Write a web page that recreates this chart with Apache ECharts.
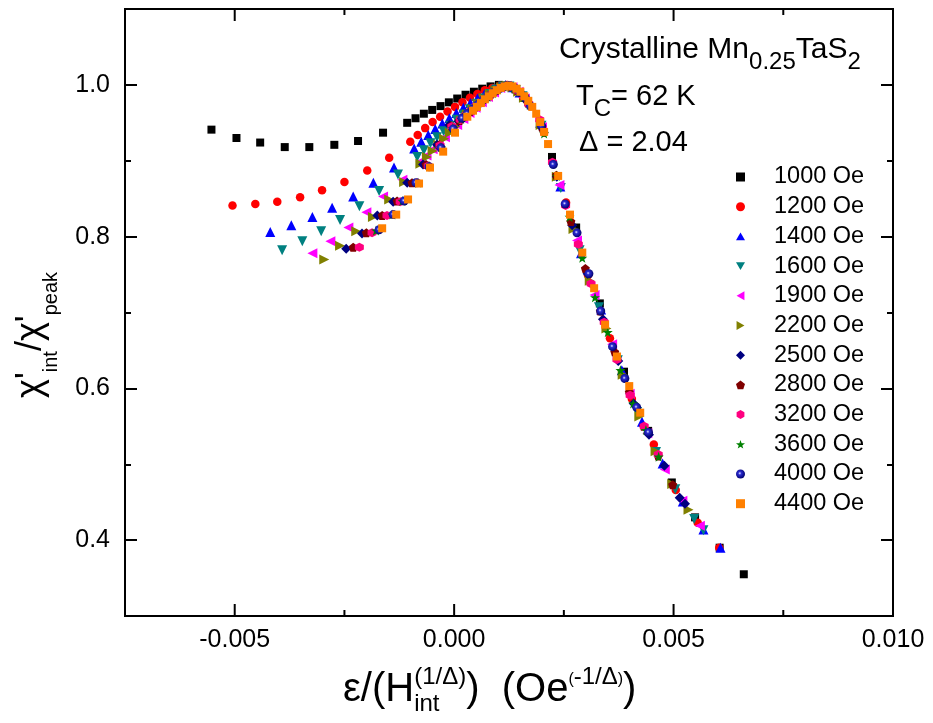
<!DOCTYPE html>
<html><head><meta charset="utf-8">
<script src="https://cdn.jsdelivr.net/npm/echarts@6/dist/echarts.min.js"></script>
<style>html,body{margin:0;padding:0;background:#fff;}
#wrap{position:relative;width:933px;height:723px;}
#c,#t{position:absolute;left:0;top:0;width:933px;height:723px;}
#t{pointer-events:none;}</style>
</head><body><div id="wrap"><div id="c"></div><div id="t"></div></div>
<script>
const FONT = '"Liberation Sans", Arial, sans-serif';

// ---- tick labels / tick positions ----
const xTickLabels = [-0.005, 0.000, 0.005, 0.010];
const xMinorTicks = [-0.0025, 0.0025, 0.0075];
const yTickLabels = [0.4, 0.6, 0.8, 1.0];
const yMinorTicks = [0.5, 0.7, 0.9];

// ---- series names ----
const fieldNames = ['1000 Oe','1200 Oe','1400 Oe','1600 Oe','1900 Oe','2200 Oe','2500 Oe','2800 Oe','3200 Oe','3600 Oe','4000 Oe','4400 Oe'];

// ---- series values [x, y] ----
const h1000 = [[-0.00553,0.941],[-0.00496,0.930],[-0.00442,0.924],[-0.00386,0.918],[-0.0033,0.918],[-0.00273,0.921],[-0.00219,0.926],[-0.00162,0.937],
[-0.00107,0.950],[-0.00088,0.956],[-0.00069,0.962],[-0.0005,0.967],[-0.00031,0.972],[-0.00012,0.977],[0.00007,0.982],[0.00026,0.987],[0.00045,0.991],[0.00064,0.995],[0.00083,0.998],[0.00102,1.0],[0.00121,0.999],[0.0014,0.994],[0.00159,0.983],
[0.00223,0.905],[0.00278,0.812],[0.00332,0.712],[0.00387,0.622],[0.00442,0.544],[0.00496,0.476],[0.00549,0.430],[0.00605,0.390],[0.0066,0.355]];
const h1200 = [[-0.00505,0.841],[-0.00453,0.843],[-0.00403,0.846],[-0.00351,0.852],[-0.00301,0.861],[-0.0025,0.872],[-0.00198,0.887],[-0.00148,0.904],[-0.001,0.925],
[-0.00083,0.934],[-0.00066,0.943],[-0.00049,0.951],[-0.00032,0.958],[-0.00015,0.965],[0.00002,0.971],[0.00019,0.977],[0.00036,0.983],[0.00053,0.988],[0.0007,0.993],[0.00087,0.996],[0.00104,0.999],[0.00121,1.0],[0.00138,0.995],[0.00155,0.987],
[0.00205,0.937],[0.00255,0.845],[0.00305,0.749],[0.00355,0.666],[0.00405,0.586],[0.00455,0.526],[0.00505,0.466],[0.00555,0.423],[0.00604,0.390]];
const h1400 = [[-0.00419,0.806],[-0.00371,0.815],[-0.00323,0.826],[-0.00278,0.838],[-0.0023,0.853],[-0.00184,0.871],[-0.00137,0.891],[-0.00091,0.916],
[-0.00075,0.925],[-0.00059,0.934],[-0.00043,0.942],[-0.00027,0.949],[-0.00011,0.956],[0.00005,0.963],[0.00021,0.970],[0.00037,0.976],[0.00053,0.982],[0.00069,0.988],[0.00085,0.993],[0.00101,0.997],[0.00117,1.0],[0.00133,0.997],[0.00149,0.990],
[0.00196,0.950],[0.00242,0.866],[0.00289,0.778],[0.00335,0.704],[0.00382,0.624],[0.00428,0.556],[0.00475,0.501],[0.00521,0.451],[0.00568,0.414],[0.00607,0.390]];
const h1600 = [[-0.00392,0.782],[-0.00346,0.794],[-0.00303,0.807],[-0.0026,0.822],[-0.00216,0.840],[-0.00171,0.860],[-0.00128,0.882],[-0.00084,0.905],
[-0.00069,0.914],[-0.00054,0.923],[-0.00039,0.931],[-0.00024,0.939],[-0.00009,0.946],[0.00006,0.954],[0.00021,0.961],[0.00036,0.968],[0.00051,0.975],[0.00066,0.982],[0.00081,0.988],[0.00096,0.994],[0.00111,0.998],[0.00126,0.998],[0.00141,0.993],[0.00156,0.985],
[0.00199,0.946],[0.00243,0.864],[0.00286,0.782],[0.0033,0.707],[0.00373,0.637],[0.00417,0.569],[0.0046,0.516],[0.00504,0.467],[0.00547,0.428],[0.00568,0.413]];
const h1900 = [[-0.00323,0.778],[-0.00282,0.794],[-0.00241,0.812],[-0.002,0.832],[-0.00162,0.853],[-0.00118,0.875],[-0.00077,0.899],
[-0.00063,0.907],[-0.00049,0.915],[-0.00035,0.923],[-0.00021,0.931],[-0.00007,0.939],[0.00007,0.947],[0.00021,0.955],[0.00035,0.963],[0.00049,0.970],[0.00063,0.977],[0.00077,0.984],[0.00091,0.990],[0.00105,0.996],[0.00119,0.999],[0.00133,0.997],[0.00147,0.991],[0.00161,0.982],
[0.002,0.944],[0.0024,0.868],[0.0028,0.795],[0.0032,0.723],[0.0036,0.658],[0.004,0.593],[0.0044,0.541],[0.0048,0.493],[0.0052,0.452],[0.0056,0.419]];
const h2200 = [[-0.00296,0.770],[-0.0026,0.788],[-0.00223,0.807],[-0.00185,0.826],[-0.00148,0.849],[-0.00114,0.872],[-0.00077,0.896],
[-0.00062,0.905],[-0.00049,0.913],[-0.00036,0.921],[-0.00023,0.929],[-0.0001,0.937],[0.00003,0.945],[0.00016,0.953],[0.00029,0.961],[0.00042,0.968],[0.00055,0.975],[0.00068,0.982],[0.00081,0.988],[0.00094,0.993],[0.00107,0.997],[0.0012,0.999],[0.00133,0.997],[0.00146,0.991],[0.00159,0.983],
[0.00197,0.947],[0.00234,0.879],[0.00272,0.810],[0.00309,0.742],[0.00347,0.679],[0.00384,0.618],[0.00422,0.563],[0.00459,0.517],[0.00497,0.474],[0.00534,0.440]];
const h2500 = [[-0.00246,0.784],[-0.0021,0.804],[-0.00175,0.828],[-0.00139,0.846],[-0.00107,0.871],[-0.00071,0.895],[-0.00039,0.921],[-0.00011,0.947],
[0.0001,0.952],[0.00022,0.958],[0.00034,0.964],[0.00046,0.970],[0.00058,0.976],[0.0007,0.982],[0.00082,0.987],[0.00094,0.992],[0.00106,0.996],[0.00118,0.999],[0.0013,0.998],[0.00142,0.994],[0.00154,0.987],[0.00166,0.978],
[0.00199,0.946],[0.00234,0.879],[0.00269,0.815],[0.00304,0.751],[0.00339,0.691],[0.00374,0.636],[0.00409,0.580],[0.00444,0.539],[0.00479,0.498],[0.00514,0.456],[0.00526,0.448]];
const h2800 = [[-0.0023,0.786],[-0.002,0.805],[-0.00164,0.828],[-0.0013,0.847],[-0.00096,0.871],[-0.00064,0.895],[-0.00034,0.921],[-0.00007,0.946],
[0.00012,0.953],[0.00024,0.959],[0.00036,0.965],[0.00048,0.971],[0.0006,0.977],[0.00072,0.983],[0.00084,0.988],[0.00096,0.993],[0.00108,0.997],[0.0012,0.999],[0.00132,0.998],[0.00144,0.993],[0.00156,0.986],[0.00168,0.976],
[0.002,0.944],[0.00233,0.881],[0.00266,0.820],[0.00299,0.758],[0.00333,0.702],[0.00366,0.648],[0.00399,0.595],[0.00432,0.550],[0.00465,0.511],[0.00498,0.473]];
const h3200 = [[-0.00216,0.786],[-0.00187,0.805],[-0.00153,0.828],[-0.00123,0.846],[-0.00084,0.871],[-0.00059,0.893],[-0.00032,0.920],[-0.00005,0.945],
[0.00014,0.954],[0.00026,0.960],[0.00038,0.966],[0.0005,0.972],[0.00062,0.978],[0.00074,0.983],[0.00086,0.988],[0.00098,0.993],[0.0011,0.997],[0.00122,0.999],[0.00134,0.997],[0.00146,0.992],[0.00158,0.985],[0.0017,0.975],
[0.00195,0.954],[0.00224,0.898],[0.00254,0.841],[0.00283,0.790],[0.00312,0.738],[0.00342,0.687],[0.00371,0.638],[0.00401,0.591],[0.00433,0.550],[0.00465,0.513]];
const h3600 = [[-0.00178,0.808],[-0.00141,0.829],[-0.00118,0.847],[-0.00082,0.871],[-0.00057,0.893],[-0.0003,0.918],[-0.00003,0.943],
[0.00016,0.955],[0.00028,0.961],[0.0004,0.967],[0.00052,0.973],[0.00064,0.979],[0.00076,0.984],[0.00088,0.989],[0.001,0.994],[0.00112,0.998],[0.00124,0.999],[0.00136,0.996],[0.00148,0.991],[0.0016,0.984],[0.00172,0.974],
[0.00205,0.936],[0.00234,0.880],[0.00263,0.826],[0.00292,0.772],[0.00321,0.720],[0.0035,0.674],[0.00379,0.624],[0.00408,0.580],[0.00437,0.545],[0.00466,0.510]];
const h4000 = [[-0.00171,0.809],[-0.00139,0.829],[-0.00114,0.847],[-0.00087,0.871],[-0.00057,0.892],[-0.0003,0.917],[-0.00002,0.942],
[0.00018,0.956],[0.0003,0.962],[0.00042,0.968],[0.00054,0.974],[0.00066,0.980],[0.00078,0.985],[0.0009,0.990],[0.00102,0.995],[0.00114,0.998],[0.00126,0.999],[0.00138,0.996],[0.0015,0.990],[0.00162,0.983],[0.00174,0.972],
[0.00199,0.946],[0.00226,0.895],[0.00253,0.843],[0.0028,0.805],[0.00307,0.751],[0.00334,0.702],[0.00361,0.655],[0.00389,0.613],[0.00416,0.575],[0.00443,0.542]];
const h4400 = [[-0.00164,0.811],[-0.00132,0.829],[-0.00105,0.849],[-0.0008,0.870],[-0.00055,0.891],[-0.00025,0.912],[0.00002,0.937],[0.0003,0.958],
[0.00043,0.966],[0.00052,0.971],[0.00061,0.976],[0.0007,0.981],[0.00079,0.985],[0.00088,0.989],[0.00097,0.993],[0.00106,0.996],[0.00115,0.998],[0.00124,0.999],[0.00133,0.998],[0.00142,0.995],[0.00151,0.991],[0.0016,0.985],[0.00169,0.979],[0.00178,0.971],[0.00187,0.962],[0.00196,0.951],[0.00205,0.938],[0.00214,0.922],
[0.00237,0.880],[0.00264,0.829],[0.00292,0.779],[0.00319,0.732],[0.00344,0.684],[0.00371,0.642],[0.00399,0.603],[0.00424,0.568]];

const dataSets = [h1000,h1200,h1400,h1600,h1900,h2200,h2500,h2800,h3200,h3600,h4000,h4400];

// ---- styles ----
const PENT = 'path://M50,0 L97.6,34.5 L79.4,90.5 L20.6,90.5 L2.4,34.5 Z';
const HEX = 'path://M50,0 L93.3,25 L93.3,75 L50,100 L6.7,75 L6.7,25 Z';
const STAR = 'path://M50,0 L61.8,35.1 L97.6,34.5 L69.1,56.7 L79.4,90.5 L50,70.8 L20.6,90.5 L30.9,56.7 L2.4,34.5 L38.2,35.1 Z';
const TRI_UP = 'path://M50,0 L100,87 L0,87 Z';
const TRI_DN = 'path://M0,0 L100,0 L50,87 Z';
const TRI_LF = 'path://M87,0 L87,100 L0,50 Z';
const TRI_RT = 'path://M0,0 L0,100 L87,50 Z';
const SQR = 'path://M0,0 L100,0 L100,100 L0,100 Z';
const DIA = 'path://M50,0 L100,50 L50,100 L0,50 Z';
const CIR = 'circle';
const sphere = {type:'radial', x:0.42, y:0.42, r:0.6, colorStops:[{offset:0,color:'#e8e8ff'},{offset:0.3,color:'#2a2ad0'},{offset:1,color:'#00006a'}]};
const styles = [
  {symbol:SQR, size:8, color:'#000000'},
  {symbol:CIR, size:8.5, color:'#ff0000'},
  {symbol:TRI_UP, size:10, color:'#0000ff'},
  {symbol:TRI_DN, size:10, color:'#008080'},
  {symbol:TRI_LF, size:10, color:'#ff00ff'},
  {symbol:TRI_RT, size:10, color:'#808000'},
  {symbol:DIA, size:10, color:'#000080'},
  {symbol:PENT, size:9, color:'#800000'},
  {symbol:HEX, size:9, color:'#ff0080'},
  {symbol:STAR, size:10, color:'#008000'},
  {symbol:CIR, size:9, color:sphere},
  {symbol:SQR, size:8, color:'#ff8000'}
];

// ---- text helpers ----
const cv = document.createElement('canvas').getContext('2d');
function tw(t, s){ cv.font = s + 'px ' + FONT; return cv.measureText(t).width; }
function mk(t, x, base, s){
  return {type:'text', x:x, y:base - 0.33*s, z:100,
    style:{text:t, fontSize:s, fontFamily:FONT, fill:'#000', align:'left', verticalAlign:'middle'}};
}
function runLine(x0, parts){
  let x = x0; const out = [];
  parts.forEach(p => { out.push(mk(p.t, x, p.b, p.s)); x += tw(p.t, p.s); });
  return out;
}

const els = [];
els.push(...runLine(559, [{t:'Crystalline Mn', s:30, b:60},{t:'0.25', s:24, b:70},{t:'TaS', s:30, b:60},{t:'2', s:24, b:70}]));
els.push(...runLine(576, [{t:'T', s:29, b:107},{t:'C', s:24, b:117},{t:'= 62 K', s:29, b:107}]));
els.push(...runLine(579, [{t:'\u0394 = 2.04', s:29, b:153}]));

// x axis name
(function(){
  const M = 40, S = 24, base = 703;
  let x = 343;
  els.push(mk('\u03b5/(H', x, base, M)); x += tw('\u03b5/(H', M);
  els.push(mk('int', x, base + 9, S));
  els.push(mk('(1/\u0394)', x, base - 18, S));
  x += Math.max(tw('int', S), tw('(1/\u0394)', S));
  els.push(mk(')', x, base, M)); x += tw(')', M);
  els.push(mk('  (Oe', x, base, M)); x += tw('  (Oe', M);
  els.push(mk('(', x, base - 18, 16)); x += tw('(', 16);
  els.push(mk('-1/\u0394', x, base - 18, S)); x += tw('-1/\u0394', S);
  els.push(mk(')', x, base - 18, 16)); x += tw(')', 16);
  els.push(mk(')', x, base, M));
})();

// y axis name (rotated)
(function(){
  const M = 36, S = 20;
  const parts = [{t:"\u03c7'", s:M, d:0},{t:'int', s:S, d:15},{t:"/\u03c7'", s:M, d:0},{t:'peak', s:S, d:15}];
  const W = parts.reduce((a,p)=>a+tw(p.t,p.s),0);
  let lx = -W/2; const ch = [];
  parts.forEach(p => { ch.push(mk(p.t, lx, p.d, p.s)); lx += tw(p.t, p.s); });
  els.push({type:'group', x:43, y:335, rotation:Math.PI/2, children:ch, z:100});
})();

// ---- axes ----
const AX = {color:'#000', width:2};
const GRID = {left:125, right:40, top:9, bottom:107, containLabel:false};
const xCommon = {type:'value', min:-0.0075, max:0.010, interval:0.0025, splitLine:{show:false}};
const yCommon = {type:'value', min:0.3, max:1.1, interval:0.1, splitLine:{show:false}};
const xFmt = v => { const k = Math.round(v*10000); return (k % 50 === 0 && k >= -50) ? v.toFixed(3) : ''; };
const yFmt = v => { const k = Math.round(v*10); return (k % 2 === 0 && k >= 4 && k <= 10) ? (k/10).toFixed(1) : ''; };
const lab = {fontSize:25, fontFamily:FONT, color:'#000'};
const noLine = {show:false, onZero:false};
function tickAxis(common, pos, vals, len){
  return Object.assign({}, common, {position:pos, axisLine:noLine,
    axisTick:{show:true, inside:true, length:len, customValues:vals, lineStyle:AX}, axisLabel:{show:false}});
}

const option = {
  animation:false,
  backgroundColor:'#fff',
  grid:Object.assign({show:true, borderColor:'#000', borderWidth:2, backgroundColor:'transparent'}, GRID),
  xAxis:[
    Object.assign({}, xCommon, {position:'bottom', axisLine:noLine, axisTick:{show:false},
      axisLabel:Object.assign({show:true, formatter:xFmt, margin:12}, lab)})
  ],
  yAxis:[
    Object.assign({}, yCommon, {position:'left', axisLine:noLine, axisTick:{show:false},
      axisLabel:Object.assign({show:true, formatter:yFmt, margin:15}, lab)}),
    tickAxis(yCommon, 'left', yTickLabels, 12),
    tickAxis(yCommon, 'left', yMinorTicks, 6),
    tickAxis(yCommon, 'right', yTickLabels, 12),
    tickAxis(yCommon, 'right', yMinorTicks, 6)
  ],
  legend:{orient:'vertical', left:731, top:160, itemWidth:9, itemHeight:9, itemGap:5.7,
    selectedMode:false, symbolKeepAspect:true,
    data: fieldNames.map((n,i)=>({name:n, icon:styles[i].symbol})),
    textStyle:{fontSize:23.5, fontFamily:FONT, color:'#000', lineHeight:24, padding:[0,0,0,24]}},
  graphic:{elements:els},
  series: fieldNames.map((name, i) => ({
    type:'scatter', name:name, data:dataSets[i], xAxisIndex:0, yAxisIndex:0,
    symbol:styles[i].symbol, symbolSize:styles[i].size,
    itemStyle:{color:styles[i].color, opacity:1}, emphasis:{disabled:true}
  }))
};
const chart = echarts.init(document.getElementById('c'), null, {renderer:'canvas'});
chart.setOption(option);

// ---- overlay layer: x-axis tick marks (bottom and top, inward), placed through the same axis scale ----
const xTickData = xTickLabels.map(v => [v, 12]).concat(xMinorTicks.map(v => [v, 6]));
const tickChart = echarts.init(document.getElementById('t'), null, {renderer:'canvas'});
tickChart.setOption({
  animation:false,
  grid:GRID,
  xAxis:[Object.assign({}, xCommon, {show:false})],
  yAxis:[Object.assign({}, yCommon, {show:false})],
  series:[{
    type:'custom', silent:true, clip:false,
    data:xTickData,
    renderItem:function(params, api){
      const v = api.value(0), len = api.value(1);
      const b = api.coord([v, yCommon.min]);
      const t = api.coord([v, yCommon.max]);
      return {type:'group', children:[
        {type:'rect', shape:{x:b[0] - 1, y:b[1] - len, width:2, height:len}, style:{fill:'#000'}},
        {type:'rect', shape:{x:t[0] - 1, y:t[1], width:2, height:len}, style:{fill:'#000'}}
      ]};
    }
  }]
});
</script></body></html>
